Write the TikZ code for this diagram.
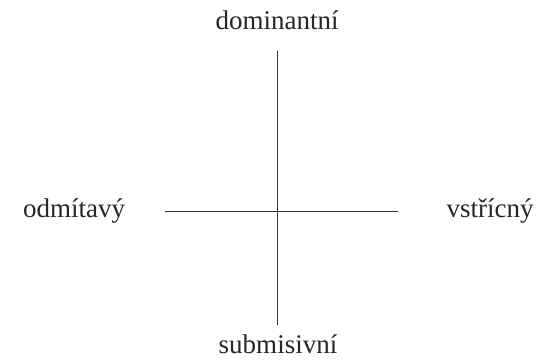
\documentclass[tikz,border=0pt]{standalone}
\usepackage{fontspec}
\setmainfont{Liberation Serif}
\begin{document}
\begin{tikzpicture}[x=1pt,y=1pt,
  lab/.style={inner sep=0pt,font=\fontsize{27}{32}\selectfont,text=black!85},
  axis/.style={line width=1pt,black!80}]
\useasboundingbox (0,0) rectangle (543,361);
\node[lab,anchor=base] (top) at (277,331) {dominantní};
\node[lab,anchor=base] (bot) at (278,7) {submisivní};
\node[lab,anchor=base] (left) at (74,143) {odmítavý};
\node[lab,anchor=base] (right) at (490,143) {vstřícný};
\coordinate (vt) at (277,310);
\coordinate (vb) at (277,36);
\coordinate (hl) at (165,149);
\coordinate (hr) at (398,149);
\draw[axis] (vt) -- (vb);
\draw[axis] (hl) -- (hr);
\end{tikzpicture}
\end{document}
